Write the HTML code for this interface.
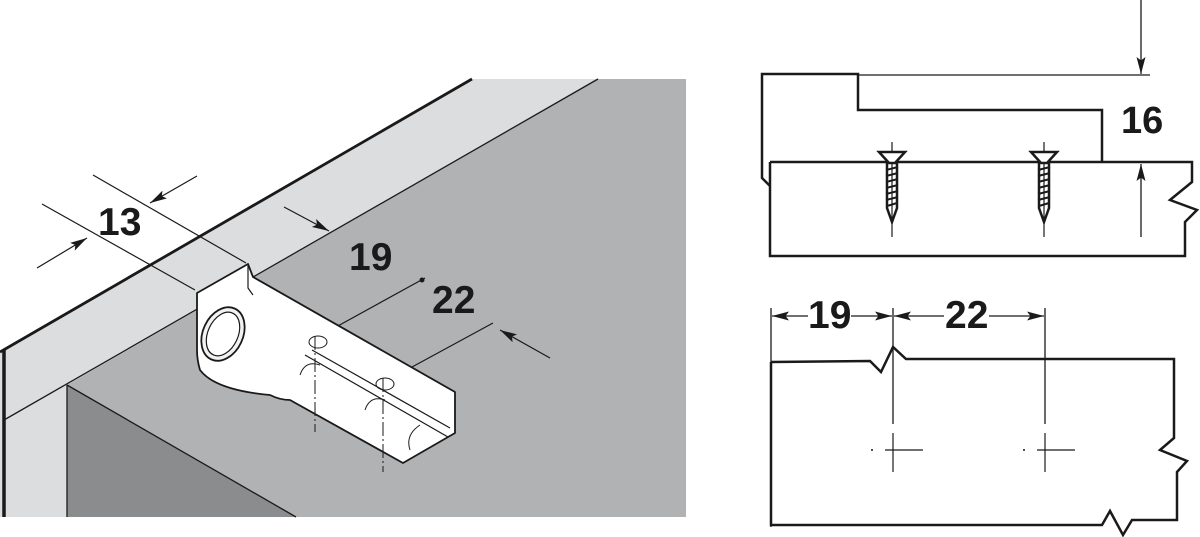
<!DOCTYPE html>
<html><head><meta charset="utf-8"><style>
html,body{margin:0;padding:0;background:#fff;width:1200px;height:537px;overflow:hidden}
svg{display:block}
text{font-family:"Liberation Sans",Arial,sans-serif;font-weight:bold;fill:#1a1a1a}
</style></head><body>
<svg width="1200" height="537" viewBox="0 0 1200 537" xmlns="http://www.w3.org/2000/svg">
<defs>
<marker id="ah" viewBox="0 0 10 10" refX="10" refY="5" markerWidth="17" markerHeight="9" orient="auto" markerUnits="userSpaceOnUse" preserveAspectRatio="none"><path d="M0,0 L10,5 L0,10 L2,5 z" fill="#1a1a1a"/></marker>
</defs>
<!-- left perspective -->
<polygon points="598,79 686,79 686,517 67,517 67,385" fill="#b1b2b4"/>
<polygon points="0,352 472,79 598,79 67,385 67,517 0,517" fill="#dcdddf"/>
<polygon points="67,385 296,517 67,517" fill="#8b8c8e"/>
<g stroke="#1a1a1a" fill="none">
<line x1="0" y1="352" x2="472" y2="79" stroke-width="2.8"/>
<line x1="598" y1="79" x2="4" y2="420" stroke-width="1.3"/>
<line x1="67" y1="385" x2="67" y2="517" stroke-width="1.3"/>
<line x1="67" y1="385" x2="296" y2="517" stroke-width="1.3"/>
<line x1="4" y1="350" x2="4" y2="517" stroke-width="3.5"/>
<!-- 13 -->
<line x1="93" y1="175" x2="246" y2="263" stroke-width="1.2"/>
<line x1="42" y1="204" x2="195" y2="290" stroke-width="1.2"/>
<line x1="197" y1="176" x2="150" y2="203" stroke-width="1.2" marker-end="url(#ah)"/>
<line x1="37" y1="268" x2="87" y2="238" stroke-width="1.2" marker-end="url(#ah)"/>
<!-- 19 -->
<line x1="284" y1="207" x2="329" y2="231" stroke-width="1.2" marker-end="url(#ah)"/>
<!-- 22 -->
<line x1="425" y1="278" x2="316" y2="338" stroke-width="1.2"/>
<line x1="493" y1="323" x2="412" y2="367" stroke-width="1.2"/>
<line x1="550" y1="358" x2="500" y2="330" stroke-width="1.2" marker-end="url(#ah)"/>
</g>
<circle cx="422" cy="280" r="2.5" fill="#1a1a1a"/>
<!-- catch -->
<g stroke="#1a1a1a" stroke-width="1.8" stroke-linejoin="round">
<path d="M197,293 L248,264 L253,277 L455,392 L455,433 L403,463 L290,400 Q280,400 270,395 Q215,390 200,370 Q197,360 197,350 Z" fill="#fff"/>
<ellipse cx="223" cy="334" rx="20" ry="28" transform="rotate(25 223 334)" fill="#f2f2f2"/>
<ellipse cx="223" cy="334" rx="15" ry="23" transform="rotate(25 223 334)" fill="#fff" stroke-width="1.2"/>
<path d="M248,264 L248,288 L253,295" fill="none" stroke-width="1.2"/>
<path d="M305,355 L448,437 M312,350 L450,428 M290,400 L403,463" fill="none" stroke-width="1.2"/>
<path d="M300,375 Q305,360 320,365 M365,410 Q370,395 385,400 M410,450 Q405,435 420,425" fill="none" stroke-width="1"/>
<ellipse cx="318" cy="342" rx="9" ry="6" fill="none" stroke-width="1"/>
<ellipse cx="385" cy="384" rx="9" ry="6" fill="none" stroke-width="1"/>
</g>
<g stroke="#1a1a1a" stroke-width="1" stroke-dasharray="14,3,2,3">
<line x1="315" y1="336" x2="315" y2="432"/>
<line x1="383" y1="378" x2="383" y2="472"/>
</g>
<text x="98" y="235" font-size="39">13</text>
<text x="349" y="270" font-size="39">19</text>
<text x="432" y="313" font-size="39">22</text>

<!-- right top -->
<g stroke="#1a1a1a" fill="none">
<line x1="1141" y1="0" x2="1141" y2="74" stroke-width="1.3" marker-end="url(#ah)"/>
<line x1="858" y1="75" x2="1150" y2="75" stroke-width="1.3"/>
<polyline points="770,186 762,178 762,74 858,74 858,110 1102,110 1102,162" stroke-width="2.5"/>
<polyline points="770,162 1192,162 1192,182 1170,200 1197,210 1185,222 1185,256 770,256 770,162" stroke-width="2.5"/>
<line x1="1141" y1="237" x2="1141" y2="164" stroke-width="1.3" marker-end="url(#ah)"/>
</g>
<g stroke="#1a1a1a" fill="none">
<g id="screw">
<line x1="892" y1="142" x2="892" y2="237" stroke-width="1.2"/>
<path d="M879,152 L905,152 L895,163 L889,163 Z" stroke-width="2.5" fill="#fff"/>
<path d="M887,163 L887,208 L892,222 L897,208 L897,163" stroke-width="2.5"/>
<path d="M886,170 L898,167 M886,176 L898,173 M886,182 L898,179 M886,188 L898,185 M886,194 L898,191 M886,200 L898,197 M887,206 L897,203" stroke-width="2"/>
</g>
<use href="#screw" x="152"/>
</g>
<text x="1121" y="133" font-size="38">16</text>

<!-- right bottom -->
<g stroke="#1a1a1a" fill="none">
<line x1="771" y1="308" x2="771" y2="527" stroke-width="1.3"/>
<line x1="893" y1="308" x2="893" y2="424" stroke-width="1.3"/>
<line x1="1045" y1="308" x2="1045" y2="424" stroke-width="1.3"/>
<line x1="808" y1="316" x2="772" y2="316" stroke-width="1.3" marker-end="url(#ah)"/>
<line x1="851" y1="316" x2="892" y2="316" stroke-width="1.3" marker-end="url(#ah)"/>
<line x1="944" y1="316" x2="894" y2="316" stroke-width="1.3" marker-end="url(#ah)"/>
<line x1="989" y1="316" x2="1044" y2="316" stroke-width="1.3" marker-end="url(#ah)"/>
<polyline points="771,362 870,361 881,372 893,347 906,359 1174,359 1174,438 1160,450 1187,461 1177,472 1177,520 1132,520 1123,535 1110,511 1102,525 771,525 771,362" stroke-width="2.5"/>
<g stroke-width="1.2">
<line x1="893" y1="433" x2="893" y2="472"/><line x1="885" y1="450" x2="923" y2="450"/>
<line x1="1045" y1="433" x2="1045" y2="472"/><line x1="1037" y1="450" x2="1075" y2="450"/>
</g>
</g>
<circle cx="872" cy="450" r="1" fill="#1a1a1a"/>
<circle cx="1024" cy="450" r="1" fill="#1a1a1a"/>
<text x="808" y="328" font-size="39">19</text>
<text x="945" y="328" font-size="39">22</text>
</svg>
</body></html>
